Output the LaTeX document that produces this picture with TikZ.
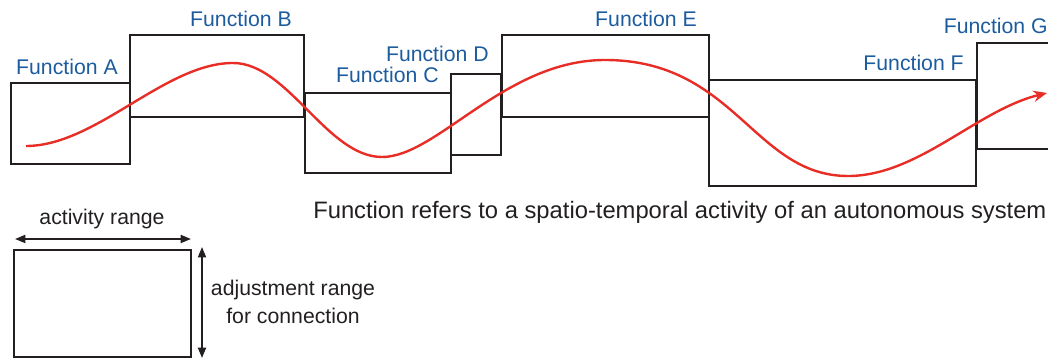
\documentclass[tikz,border=0pt]{standalone}
\usepackage{fontspec}
\setmainfont{Liberation Sans}
\usepackage{tikz}
\usetikzlibrary{arrows.meta,fit,calc}
\definecolor{funcblue}{RGB}{28,92,158}
\definecolor{curvered}{RGB}{232,45,38}
\definecolor{ink}{RGB}{35,31,32}

\begin{document}
\begin{tikzpicture}[x=0.025cm, y=-0.025cm,
  every node/.style={font=\fontsize{15.1}{19.8}\selectfont, text=ink},
  fbox/.style={draw=ink,line width=1.9pt,inner sep=0pt,outer sep=0pt},
  flabel/.style={text=funcblue,inner sep=0pt,anchor=base east},
  dimarrow/.style={{Triangle[length=2.6mm,width=2mm]}-{Triangle[length=2.6mm,width=2mm]},line width=1.4pt,draw=ink}]
\useasboundingbox (0,0) rectangle (1048,360);
% function boxes
\foreach \n/\xa/\ya/\xb/\yb in {A/11/83/130/164, B/130/35/304/117, C/305/93/451/173,
  D/451/74/501/155, E/502/35/709/117, F/709/80/976/186, G/977/43/1060/149}
  \node[fbox,fit={(\xa,\ya)(\xb,\yb)}] (\n) {};
\foreach \n/\dy in {A/8,B/8,C/10,D/12,E/8,F/9,G/9}
  \node[flabel] (l\n) at ($(\n.north east)+(-12,-\dy)$) {Function \n};
% trajectory
\coordinate (s0) at (26,146);
\coordinate (s5) at (1047,93);
\draw[curvered,line width=1.7pt,-{Stealth[length=3.4mm,width=2.8mm]}] (s0)
  .. controls (96,146) and (165,63) .. (233,63)
  .. controls (288,63) and (327,157) .. (382,157)
  .. controls (437,157) and (505,60) .. (605,60)
  .. controls (735,60) and (754,176) .. (848,176)
  .. controls (918,176) and (977,110) .. (s5);
\node[anchor=base west,inner sep=0pt,font=\fontsize{16.9}{20}\selectfont] (note) at (313,219) {Function refers to a spatio-temporal activity of an autonomous system};
% legend
\node[fbox,fit={(14,250)(191,357)}] (legend) {};
\coordinate (arL) at (15,239);
\coordinate (arR) at (191,239);
\coordinate (arT) at (202,247);
\coordinate (arB) at (202,358);
\draw[dimarrow] (arL) -- (arR);
\draw[dimarrow] (arT) -- (arB);
\node[anchor=base,inner sep=0pt] (act) at (102,225) {activity range};
\node[align=center,inner sep=0pt] (adj) at (293,302) {adjustment range\\for connection};
\end{tikzpicture}
\end{document}
